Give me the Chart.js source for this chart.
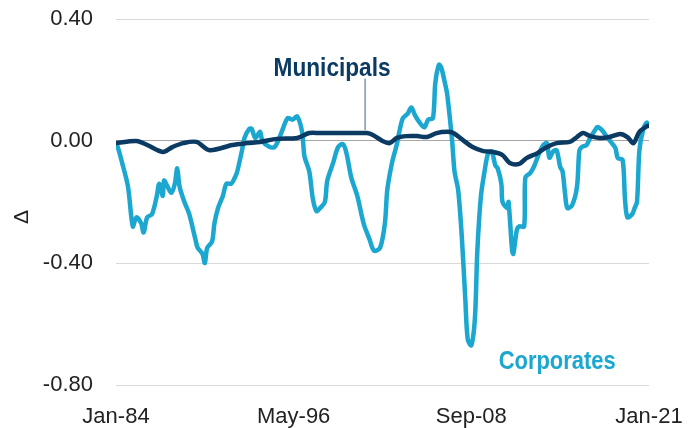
<!DOCTYPE html>
<html>
<head>
<meta charset="utf-8">
<script src="https://cdn.jsdelivr.net/npm/chart.js@4.4.1/dist/chart.umd.min.js"></script>
<style>
  html, body { margin: 0; padding: 0; background: #fff; }
  #wrap { width: 698px; height: 428px; }
</style>
</head>
<body>
<div id="wrap"><canvas id="chart"></canvas></div>
<script>
// x axis tick labels (every 148 months from Jan-84)
var tickLabels = ['Jan-84', 'May-96', 'Sep-08', 'Jan-21'];

// Corporates
var corpDates = ['1984-01','1984-02','1984-06','1984-11','1985-03','1985-06','1985-10','1985-12','1986-03','1986-07',
  '1986-11','1987-01','1987-04','1987-05','1987-08','1987-11','1988-02','1988-04','1988-06','1988-10',
  '1989-02','1989-07','1989-09','1990-01','1990-03','1990-05','1990-09','1990-11','1991-02','1991-06',
  '1991-09','1992-01','1992-04','1992-06','1992-10','1992-12','1993-04','1993-06','1993-09','1994-01',
  '1994-03','1994-09','1995-01','1995-04','1995-08','1995-12','1996-04','1996-08','1996-12','1997-02',
  '1997-06','1997-09','1997-12','1998-03','1998-07','1998-09','1999-02','1999-06','1999-10','2000-01',
  '2000-05','2000-10','2001-02','2001-04','2001-08','2001-12','2002-05','2002-09','2002-11','2003-03',
  '2003-07','2003-09','2003-12','2004-04','2004-07','2004-10','2005-02','2005-06','2005-09','2006-01',
  '2006-03','2006-06','2006-08','2006-11','2007-01','2007-05','2007-07','2007-10','2008-01','2008-04',
  '2008-06','2008-09','2008-12','2009-02','2009-05','2009-08','2009-11','2010-02','2010-05','2010-07',
  '2010-10','2010-11','2011-03','2011-04','2011-07','2011-08','2011-11','2012-01','2012-05','2012-06',
  '2012-10','2013-01','2013-04','2013-06','2013-09','2013-12','2014-02','2014-05','2014-08','2014-11',
  '2015-01','2015-03','2015-05','2015-09','2016-01','2016-03','2016-05','2016-09','2016-12','2017-04',
  '2017-06','2017-10','2018-02','2018-06','2018-09','2018-11','2019-03','2019-05','2019-07','2019-11',
  '2020-01','2020-03','2020-05','2020-08','2020-11','2021-01'];
var corpValues = [-0.02,-0.015,-0.07,-0.15,-0.28,-0.25,-0.27,-0.30,-0.25,-0.24,
  -0.18,-0.14,-0.18,-0.13,-0.15,-0.17,-0.14,-0.09,-0.15,-0.20,
  -0.24,-0.32,-0.35,-0.37,-0.40,-0.35,-0.33,-0.27,-0.22,-0.18,
  -0.14,-0.14,-0.12,-0.10,-0.03,0.01,0.04,0.04,0.01,0.03,
  0.00,-0.02,-0.02,0.00,0.04,0.075,0.07,0.08,0.03,-0.05,
  -0.10,-0.19,-0.23,-0.22,-0.20,-0.13,-0.07,-0.02,-0.01,-0.04,
  -0.12,-0.18,-0.25,-0.28,-0.32,-0.36,-0.35,-0.27,-0.16,-0.07,
  -0.01,0.03,0.075,0.09,0.11,0.085,0.06,0.045,0.07,0.075,
  0.19,0.25,0.24,0.19,0.15,0.00,-0.10,-0.16,-0.31,-0.52,
  -0.65,-0.67,-0.58,-0.36,-0.18,-0.10,-0.04,-0.035,-0.08,-0.09,
  -0.14,-0.20,-0.22,-0.20,-0.36,-0.37,-0.29,-0.28,-0.28,-0.12,
  -0.105,-0.085,-0.055,-0.035,-0.013,-0.007,-0.055,-0.035,-0.03,-0.085,
  -0.10,-0.17,-0.22,-0.21,-0.15,-0.03,-0.02,-0.013,0.01,0.035,
  0.046,0.035,0.013,-0.007,-0.023,-0.056,-0.062,-0.19,-0.25,-0.24,
  -0.22,-0.20,-0.03,0.035,0.06,0.05];

// Municipals
var muniDates = ['1984-01','1985-06','1986-03','1987-04','1987-12','1988-09','1989-08','1990-07','1992-02','1993-02',
  '1994-01','1995-03','1996-08','1997-06','1998-03','2000-04','2001-06','2001-11','2002-07','2003-01',
  '2003-07','2004-03','2004-12','2005-08','2006-04','2007-01','2007-06','2008-02','2008-10','2009-07',
  '2010-03','2010-11','2011-05','2012-01','2012-07','2013-04','2013-12','2014-08','2015-07','2016-01',
  '2016-06','2016-12','2017-08','2018-04','2019-01','2019-07','2019-12','2020-05','2020-12','2021-01'];
var muniValues = [-0.007,0.00,-0.013,-0.036,-0.02,-0.007,-0.003,-0.03,-0.013,-0.007,
  -0.003,0.007,0.01,0.026,0.026,0.026,0.026,0.02,0.00,-0.007,
  0.01,0.016,0.016,0.013,0.026,0.03,0.026,0.003,-0.02,-0.033,
  -0.036,-0.046,-0.072,-0.075,-0.056,-0.04,-0.02,-0.007,-0.003,0.013,
  0.026,0.016,0.01,0.013,0.023,0.013,-0.007,0.03,0.05,0.05];

function monthIndex(d) {
  var p = d.split('-');
  return (parseInt(p[0], 10) - 1984) * 12 + parseInt(p[1], 10) - 1;
}
function toPoints(dates, values) {
  return dates.map(function (d, i) { return { x: monthIndex(d), y: values[i] }; });
}

var corpColor = '#1ba7cf';
var muniColor = '#0b3a62';

// condensed bold label: squeeze horizontally to the width of the original
function narrowText(ctx, text, x, y, w) {
  var k = w / ctx.measureText(text).width;
  ctx.save();
  ctx.translate(x, y);
  ctx.scale(k, 1);
  ctx.fillText(text, 0, 0);
  ctx.restore();
}

// labels drawn on the plot
var annotate = {
  id: 'annotate',
  afterDatasetsDraw: function (chart) {
    var ctx = chart.ctx, xs = chart.scales.x, ys = chart.scales.y;
    ctx.save();
    // leader line for Municipals
    ctx.strokeStyle = '#5b7c9a';
    ctx.lineWidth = 1.2;
    ctx.beginPath();
    ctx.moveTo(xs.getPixelForValue(207.5), ys.getPixelForValue(0.205));
    ctx.lineTo(xs.getPixelForValue(207.5), ys.getPixelForValue(0.036));
    ctx.stroke();

    ctx.font = 'bold 26px "Liberation Sans", sans-serif';
    ctx.textAlign = 'center';
    ctx.textBaseline = 'middle';
    ctx.fillStyle = muniColor;
    narrowText(ctx, 'Municipals', xs.getPixelForValue(180), ys.getPixelForValue(0.238), 117);
    ctx.fillStyle = corpColor;
    narrowText(ctx, 'Corporates', xs.getPixelForValue(367.5), ys.getPixelForValue(-0.723), 117);

    // y axis title
    ctx.translate(22, 217);
    ctx.rotate(-Math.PI / 2);
    ctx.font = '21px "Liberation Sans", sans-serif';
    ctx.fillStyle = '#222';
    ctx.fillText('\u0394', 0, 0);
    ctx.restore();
  }
};

var ctx = document.getElementById('chart').getContext('2d');
var myChart = new Chart(ctx, {
  type: 'line',
  data: {
    datasets: [{
      label: 'Municipals',
      data: toPoints(muniDates, muniValues),
      borderColor: muniColor,
      borderWidth: 4.5,
      pointRadius: 0,
      tension: 0.3,
      borderJoinStyle: 'round',
      borderCapStyle: 'round'
    }, {
      label: 'Corporates',
      data: toPoints(corpDates, corpValues),
      borderColor: corpColor,
      borderWidth: 4.5,
      pointRadius: 0,
      tension: 0.3,
      borderJoinStyle: 'round',
      borderCapStyle: 'round'
    }]
  },
  options: {
    responsive: true,
    maintainAspectRatio: false,
    animation: false,
    layout: { padding: { top: 19, right: 49, left: 0, bottom: 0 } },
    plugins: { legend: { display: false }, tooltip: { enabled: false } },
    scales: {
      x: {
        type: 'linear',
        min: 0,
        max: 444,
        grid: { display: false },
        border: { display: false },
        afterBuildTicks: function (s) {
          s.ticks = tickLabels.map(function (t, i) { return { value: i * 148 }; });
        },
        afterFit: function (s) { s.height = 43; },
        ticks: {
          padding: 11,
          maxRotation: 0,
          color: '#222',
          font: { family: '"Liberation Sans", sans-serif', size: 22 },
          callback: function (v) { return tickLabels[Math.round(v / 148)]; }
        }
      },
      y: {
        min: -0.8,
        max: 0.4,
        border: { display: false },
        afterFit: function (s) { s.width = 116; s.paddingTop = 0; s.paddingBottom = 0; },
        grid: {
          drawTicks: false,
          color: function (c) { return Math.abs(c.tick.value) < 1e-9 ? '#a6a6a6' : '#d9d9d9'; },
          lineWidth: 1
        },
        ticks: {
          stepSize: 0.4,
          padding: 23,
          color: '#222',
          font: { family: '"Liberation Sans", sans-serif', size: 22 },
          callback: function (v) { return Math.abs(v) < 1e-9 ? '0.00' : v.toFixed(2); }
        }
      }
    }
  },
  plugins: [annotate]
});
</script>
</body>
</html>
